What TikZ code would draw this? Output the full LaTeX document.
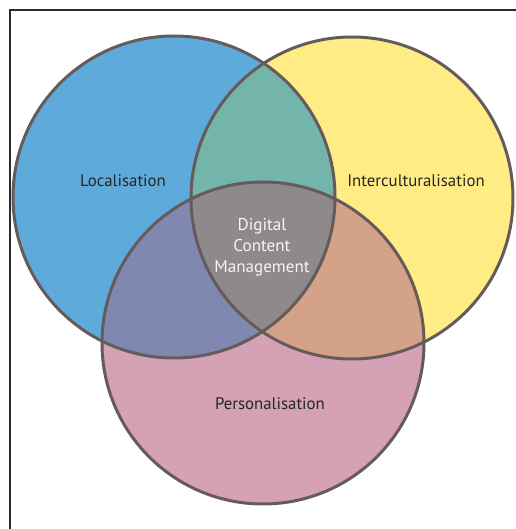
\documentclass[tikz,border=0pt]{standalone}
\usepackage{fontspec}
\setmainfont{PT Sans}
\usepackage{tikz}
\usetikzlibrary{positioning}
\definecolor{locblue}{HTML}{5EABDB}
\definecolor{intyellow}{HTML}{FFEC84}
\definecolor{perpink}{HTML}{D5A1B5}
\definecolor{bluyel}{HTML}{73B5AA}
\definecolor{blupink}{HTML}{8088B0}
\definecolor{yelpink}{HTML}{D4A189}
\definecolor{dcmgray}{HTML}{8E8A8B}
\definecolor{ringgray}{HTML}{655B5B}
\tikzset{
  vennset/.style={draw=ringgray, line width=2.25pt, circle, minimum size=241.5pt, inner sep=0pt},
  setlabel/.style={font=\fontsize{12.6}{15}\selectfont, text=black!85},
  corelabel/.style={font=\fontsize{12.8}{15.8}\selectfont, text=white!92!gray, align=center}
}

\begin{document}
\begin{tikzpicture}[x=0.75pt, y=0.75pt]
  \useasboundingbox (0,0) rectangle (515,529);
  \draw[line width=1.5pt, draw=black!83] (10,-5) -- (10,519) -- (520,519);
  % plain fills of the three sets
  \fill[locblue] (174,332) circle (161);
  \fill[intyellow] (352,331) circle (161);
  \fill[perpink] (263,186) circle (161);
  % two-set overlaps
  \begin{scope}
    \clip (174,332) circle (161);
    \fill[bluyel] (352,331) circle (161);
    \fill[blupink] (263,186) circle (161);
  \end{scope}
  \begin{scope}
    \clip (352,331) circle (161);
    \fill[yelpink] (263,186) circle (161);
    \clip (263,186) circle (161);
    \fill[dcmgray] (174,332) circle (161);
  \end{scope}
  % rings
  \node[vennset] (loc) at (174,332) {};
  \node[vennset] (inter) at (352,331) {};
  \node[vennset] (pers) at (263,186) {};
  % texts
  \node[setlabel] (loctext) at (123,348) {Localisation};
  \node[setlabel] (intertext) at (416,348) {Interculturalisation};
  \node[setlabel] (perstext) at (270,125) {Personalisation};
  \node[corelabel] (dcm) at (262,282) {Digital\\Content\\Management};
\end{tikzpicture}
\end{document}
